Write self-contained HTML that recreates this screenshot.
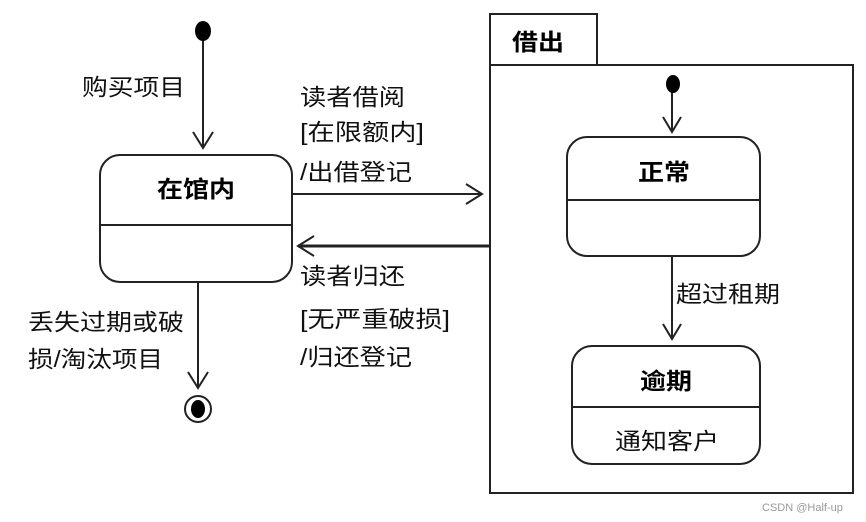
<!DOCTYPE html>
<html><head><meta charset="utf-8"><style>html,body{margin:0;padding:0;background:#fff}svg{display:block}</style></head>
<body>
<svg width="866" height="522" viewBox="0 0 866 522" xmlns="http://www.w3.org/2000/svg" font-family="'Liberation Sans','Noto Sans CJK SC',sans-serif">
<g stroke="#222" stroke-width="2" fill="none">
<!-- left -->
<line x1="203" y1="36" x2="203" y2="148"/>
<polyline points="193,132 203,148 213,132"/>
<rect x="100" y="155" width="192" height="127" rx="20"/>
<line x1="100" y1="225" x2="292" y2="225"/>
<line x1="292" y1="194" x2="482" y2="194"/>
<polyline points="466,184 482,194 466,204"/>
<line x1="489" y1="246" x2="298" y2="246" stroke-width="3"/>
<polyline points="314,236 298,246 314,256"/>
<line x1="198" y1="282" x2="198" y2="388"/>
<polyline points="188,372 198,388 208,372"/>
<circle cx="198" cy="409" r="13"/>
<!-- frame -->
<rect x="490" y="14" width="107" height="51"/>
<rect x="490" y="65" width="363" height="428"/>
<line x1="672" y1="88" x2="672" y2="132"/>
<polyline points="663,117 672,132 681,117"/>
<rect x="567" y="137" width="193" height="119" rx="20"/>
<line x1="567" y1="200" x2="760" y2="200"/>
<line x1="672" y1="256" x2="672" y2="339"/>
<polyline points="663,324 672,339 681,324"/>
<rect x="572" y="346" width="188" height="118" rx="20"/>
<line x1="572" y1="407" x2="760" y2="407"/>
</g>
<ellipse cx="203" cy="31" rx="8" ry="10" fill="#000"/>
<ellipse cx="673" cy="84" rx="7" ry="9" fill="#000"/>
<ellipse cx="198" cy="409" rx="7" ry="9" fill="#000"/>
<g font-size="23" fill="#111">
<text x="82" y="95" textLength="103" lengthAdjust="spacingAndGlyphs">购买项目</text>
<text x="300" y="105" textLength="105" lengthAdjust="spacingAndGlyphs">读者借阅</text>
<text x="300" y="140" textLength="124" lengthAdjust="spacingAndGlyphs">[在限额内]</text>
<text x="300" y="180" textLength="112" lengthAdjust="spacingAndGlyphs">/出借登记</text>
<text x="300" y="284" textLength="105" lengthAdjust="spacingAndGlyphs">读者归还</text>
<text x="300" y="327" textLength="150" lengthAdjust="spacingAndGlyphs">[无严重破损]</text>
<text x="300" y="365" textLength="112" lengthAdjust="spacingAndGlyphs">/归还登记</text>
<text x="28" y="330" textLength="156" lengthAdjust="spacingAndGlyphs">丢失过期或破</text>
<text x="28" y="367" textLength="135" lengthAdjust="spacingAndGlyphs">损/淘汰项目</text>
<text x="676" y="302" textLength="104" lengthAdjust="spacingAndGlyphs">超过租期</text>
<text x="615" y="449" textLength="104" lengthAdjust="spacingAndGlyphs">通知客户</text>
</g>
<g font-size="23" font-weight="bold" fill="#000">
<text x="157" y="197" textLength="78" lengthAdjust="spacingAndGlyphs">在馆内</text>
<text x="512" y="50" textLength="52" lengthAdjust="spacingAndGlyphs">借出</text>
<text x="638" y="180" textLength="52" lengthAdjust="spacingAndGlyphs">正常</text>
<text x="640" y="389" textLength="52" lengthAdjust="spacingAndGlyphs">逾期</text>
</g>
<text x="762" y="511" font-size="11" fill="#999">CSDN @Half-up</text>
</svg>
</body></html>
